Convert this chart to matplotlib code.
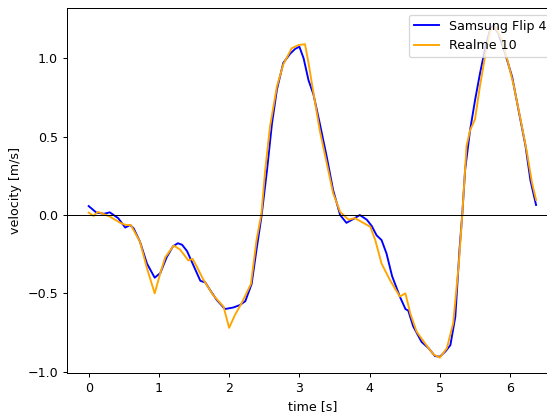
import matplotlib
matplotlib.use("Agg")
import matplotlib.pyplot as plt

# Samsung Flip 4 velocity samples
t_samsung = [0.0, 0.11, 0.22, 0.30, 0.42, 0.52, 0.59, 0.64, 0.73, 0.83, 0.94, 1.02, 1.11,
             1.20, 1.27, 1.33, 1.40, 1.49, 1.59, 1.66, 1.73, 1.82, 1.94, 2.06, 2.15, 2.23,
             2.32, 2.39, 2.46, 2.54, 2.61, 2.68, 2.77, 2.87, 2.94, 3.00, 3.06, 3.13, 3.20,
             3.29, 3.39, 3.48, 3.58, 3.67, 3.77, 3.86, 3.96, 4.03, 4.10, 4.17, 4.24, 4.32,
             4.43, 4.51, 4.55, 4.62, 4.74, 4.84, 4.93, 5.00, 5.08, 5.15, 5.22, 5.28, 5.32,
             5.36, 5.43, 5.50, 5.57, 5.65, 5.72, 5.76, 5.83, 5.93, 6.03, 6.12, 6.22, 6.29,
             6.37]
v_samsung = [0.057, 0.015, 0.008, 0.017, -0.02, -0.08, -0.064, -0.085, -0.17, -0.31, -0.40,
             -0.37, -0.27, -0.20, -0.18, -0.19, -0.23, -0.32, -0.42, -0.43, -0.48, -0.54,
             -0.60, -0.59, -0.575, -0.55, -0.44, -0.22, -0.01, 0.29, 0.585, 0.80, 0.97, 1.03,
             1.06, 1.074, 1.00, 0.86, 0.77, 0.585, 0.37, 0.16, 0.0, -0.05, -0.025, 0.0, -0.03,
             -0.07, -0.13, -0.16, -0.245, -0.39, -0.52, -0.60, -0.61, -0.71, -0.81, -0.85,
             -0.90, -0.904, -0.87, -0.83, -0.65, -0.22, 0.01, 0.29, 0.54, 0.73, 0.90, 1.074,
             1.19, 1.21, 1.16, 1.03, 0.88, 0.67, 0.44, 0.22, 0.064]

# Realme 10 velocity samples
t_realme = [0.0, 0.07, 0.13, 0.22, 0.30, 0.45, 0.53, 0.60, 0.73, 0.83, 0.94, 1.02, 1.09,
            1.21, 1.30, 1.42, 1.48, 1.54, 1.63, 1.77, 1.92, 2.00, 2.08, 2.18, 2.31, 2.39,
            2.46, 2.51, 2.58, 2.68, 2.77, 2.89, 2.99, 3.08, 3.13, 3.20, 3.29, 3.39, 3.48,
            3.58, 3.70, 3.79, 3.91, 4.01, 4.08, 4.17, 4.29, 4.43, 4.51, 4.58, 4.67, 4.79,
            4.91, 5.00, 5.10, 5.19, 5.27, 5.32, 5.38, 5.43, 5.50, 5.57, 5.65, 5.72, 5.79,
            5.88, 5.95, 6.05, 6.14, 6.24, 6.31, 6.37]
v_realme = [0.015, -0.006, 0.02, 0.005, -0.01, -0.05, -0.064, -0.064, -0.17, -0.34, -0.50,
            -0.37, -0.27, -0.195, -0.22, -0.29, -0.28, -0.33, -0.41, -0.51, -0.585, -0.72,
            -0.64, -0.56, -0.44, -0.16, 0.01, 0.27, 0.56, 0.82, 0.96, 1.064, 1.085, 1.09,
            0.97, 0.78, 0.54, 0.33, 0.14, 0.02, -0.03, -0.02, -0.05, -0.075, -0.16, -0.31,
            -0.415, -0.52, -0.50, -0.63, -0.745, -0.82, -0.89, -0.91, -0.85, -0.69, -0.31,
            0.01, 0.44, 0.54, 0.61, 0.82, 1.03, 1.18, 1.20, 1.12, 1.01, 0.83, 0.63, 0.40,
            0.21, 0.096]

DPI = 91
W, H = 547, 412
fig = plt.figure(figsize=(W / DPI, H / DPI), dpi=DPI)
ax = fig.add_axes([66.7 / W, 38.7 / H, 491.5 / W, 365.0 / H])

ax.plot(t_samsung, v_samsung, color="blue", lw=1.5, label="Samsung Flip 4")
ax.plot(t_realme, v_realme, color="orange", lw=1.5, label="Realme 10")
ax.axhline(0, color="black", lw=0.8)

ax.set_xlim(-0.313, 6.685)
ax.set_ylim(-1.010, 1.319)
ax.set_xticks([0, 1, 2, 3, 4, 5, 6])
ax.set_yticks([-1.0, -0.5, 0.0, 0.5, 1.0])
ax.set_xlabel("time [s]")
ax.set_ylabel("velocity [m/s]")
ax.legend(loc="upper right")

fig.savefig("out.png", dpi=DPI)
